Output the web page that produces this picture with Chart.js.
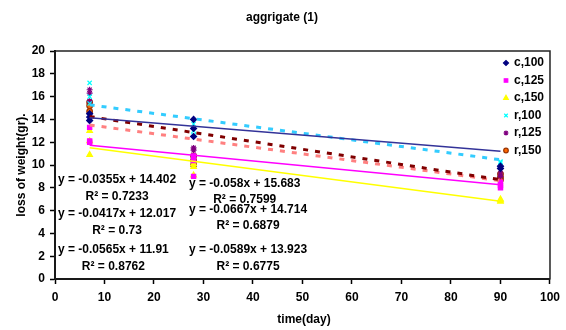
<!DOCTYPE html>
<html>
<head>
<meta charset="utf-8">
<script src="https://cdn.jsdelivr.net/npm/chart.js@4/dist/chart.umd.min.js"></script>
<style>
  html, body { margin: 0; padding: 0; background: #fff; }
  #chart { display: block; }
</style>
</head>
<body>
<canvas id="chart" width="566" height="330"></canvas>
<script>
// sampling days
const days = [7, 28, 90];

// measured values, one inner list per day (replicates)
const c100 = [[14.5, 14.2, 13.9], [14.0, 13.2, 12.5], [9.9, 9.7]];
const c125 = [[13.3, 12.1, 12.0], [10.8, 10.4, 9.0], [8.5, 8.2, 8.0]];
const c150 = [[13.0, 12.1, 10.9], [10.1, 9.85, 9.1], [7.0, 6.9, 6.8]];
const r100 = [[17.2, 16.0, 15.4], [13.6, 13.0, 12.6], [10.3, 10.2]];
const r125 = [[16.6, 16.3, 15.6], [11.5, 11.3, 10.8], [9.3, 9.0]];
const r150 = [[15.5, 15.2, 14.7], [10.8, 10.4, 10.0], [9.2, 8.9, 8.7]];

// linear trendlines, value at first and last day
const trendDays = [7, 90];
const c100Trend = [14.15, 11.21];
const c125Trend = [11.73, 8.26];
const c150Trend = [11.51, 6.83];
const r100Trend = [15.28, 10.46];
const r125Trend = [14.25, 8.71];
const r150Trend = [13.51, 8.62];

const seriesNames = ['c,100', 'c,125', 'c,150', 'r,100', 'r,125', 'r,150'];

const eqLeft = ['y = -0.0355x + 14.402', 'R² = 0.7233', 'y = -0.0417x + 12.017', 'R² = 0.73', 'y = -0.0565x + 11.91', 'R² = 0.8762'];
const eqMid = ['y = -0.058x + 15.683', 'R² = 0.7599', 'y = -0.0667x + 14.714', 'R² = 0.6879', 'y = -0.0589x + 13.923', 'R² = 0.6775'];

const xTicks = [0, 10, 20, 30, 40, 50, 60, 70, 80, 90, 100];
const yTicks = [0, 2, 4, 6, 8, 10, 12, 14, 16, 18, 20];

const FONT = 'bold 12px "Liberation Sans", Arial, sans-serif';

function toPoints(series) {
    let pts = [];
    series.forEach((vals, i) => {
        vals.forEach(v => pts.push({x: days[i], y: v}));
    });
    return pts;
}

function toTrend(vals) {
    return vals.map((v, i) => ({x: trendDays[i], y: v}));
}

const markers = [
    {style: 'rectRot', color: '#000080', border: '#000080', radius: 3},
    {style: 'rect', color: '#FF00FF', border: '#FF00FF', radius: 3},
    {style: 'triangle', color: '#FFFF00', border: '#FFFF00', radius: 3.2},
    {style: 'crossRot', color: '#00FFFF', border: '#00FFFF', radius: 3},
    {style: 'star', color: '#800080', border: '#800080', radius: 3},
    {style: 'circle', color: '#FF6600', border: '#993300', radius: 2.8},
];

const pointData = [c100, c125, c150, r100, r125, r150];
const trendData = [c100Trend, c125Trend, c150Trend, r100Trend, r125Trend, r150Trend];
const trendStyles = [
    {color: '#333399', width: 1.5, dash: []},
    {color: '#FF00FF', width: 1.5, dash: []},
    {color: '#FFFF00', width: 1.5, dash: []},
    {color: '#33CCFF', width: 3, dash: [5, 7]},
    {color: '#800000', width: 3, dash: [5, 7]},
    {color: '#FF8080', width: 3, dash: [5, 7]},
];

let datasets = [];
pointData.forEach((s, i) => {
    datasets.push({
        label: seriesNames[i],
        data: toPoints(s),
        pointStyle: markers[i].style,
        pointRadius: markers[i].radius,
        backgroundColor: markers[i].color,
        borderColor: markers[i].border,
        pointBorderWidth: 1.2,
        showLine: false,
        order: 2,
    });
});
trendData.forEach((t, i) => {
    datasets.push({
        label: 'trend ' + seriesNames[i],
        data: toTrend(t),
        showLine: true,
        pointRadius: 0,
        borderColor: trendStyles[i].color,
        borderWidth: trendStyles[i].width,
        borderDash: trendStyles[i].dash,
        order: 1,
    });
});

function drawLabelBlock(ctx, lines, left, ys) {
    ctx.font = FONT;
    ctx.fillStyle = '#000';
    ctx.textBaseline = 'middle';
    ctx.textAlign = 'center';
    for (let k = 0; k < lines.length; k += 2) {
        let w = Math.max(ctx.measureText(lines[k]).width, ctx.measureText(lines[k + 1]).width);
        let cx = left + w / 2;
        ctx.fillText(lines[k], cx, ys[k]);
        ctx.fillText(lines[k + 1], cx, ys[k + 1]);
    }
}

const decorations = {
    id: 'decorations',
    beforeDraw(chart) {
        const ctx = chart.ctx;
        ctx.save();
        ctx.fillStyle = '#fff';
        ctx.fillRect(0, 0, chart.width, chart.height);
        ctx.restore();
    },
    afterDraw(chart) {
        const ctx = chart.ctx;
        const a = chart.chartArea;
        ctx.save();
        // frame
        ctx.strokeStyle = '#222';
        ctx.lineWidth = 1.5;
        ctx.strokeRect(a.left, a.top, a.right - a.left, a.bottom - a.top);

        // titles
        ctx.font = FONT;
        ctx.fillStyle = '#000';
        ctx.textAlign = 'center';
        ctx.textBaseline = 'middle';
        ctx.fillText('aggrigate (1)', 282, 18);
        ctx.fillText('time(day)', 304, 320);
        ctx.save();
        ctx.translate(22, 165);
        ctx.rotate(-Math.PI / 2);
        ctx.fillText('loss of weight(gr).', 0, 0);
        ctx.restore();

        // trendline equations
        drawLabelBlock(ctx, eqLeft, 58, [180, 196.5, 214, 231, 249.5, 267]);
        drawLabelBlock(ctx, eqMid, 189, [184, 200, 210, 226, 250, 267]);

        // legend
        for (let i = 0; i < seriesNames.length; i++) {
            let y = 63 + i * 17.5;
            let m = markers[i];
            ctx.fillStyle = m.color;
            ctx.strokeStyle = m.border;
            ctx.lineWidth = 1.2;
            ctx.setLineDash([]);
            if (Chart.helpers && Chart.helpers.drawPoint) {
                Chart.helpers.drawPoint(ctx, {pointStyle: m.style, radius: m.radius - 0.5, rotation: 0, borderWidth: 1.2}, 506, y);
            } else {
                ctx.fillRect(504, y - 2, 4, 4);
            }
            ctx.fillStyle = '#000';
            ctx.font = FONT;
            ctx.textAlign = 'left';
            ctx.textBaseline = 'middle';
            ctx.fillText(seriesNames[i], 514, y);
        }
        ctx.restore();
    }
};

new Chart(document.getElementById('chart').getContext('2d'), {
    type: 'scatter',
    data: {datasets: datasets},
    options: {
        responsive: false,
        animation: false,
        layout: {padding: {top: 51, right: 13, left: 0, bottom: 0}},
        plugins: {
            legend: {display: false},
            tooltip: {enabled: false},
            title: {display: false},
        },
        scales: {
            x: {
                type: 'linear',
                min: 0,
                max: 100,
                afterBuildTicks: (scale) => { scale.ticks = xTicks.map(v => ({value: v})); },
                afterFit: (scale) => { scale.height = 51; },
                ticks: {
                    color: '#000',
                    font: {family: '"Liberation Sans", Arial, sans-serif', size: 12, weight: 'bold'},
                    padding: 6,
                    maxRotation: 0,
                },
                grid: {drawOnChartArea: false, tickLength: 5, color: '#000', tickWidth: 1.5},
                border: {color: '#000', width: 2},
            },
            y: {
                type: 'linear',
                min: 0,
                max: 20,
                afterBuildTicks: (scale) => { scale.ticks = yTicks.map(v => ({value: v})); },
                afterFit: (scale) => { scale.width = 55; },
                ticks: {
                    color: '#000',
                    font: {family: '"Liberation Sans", Arial, sans-serif', size: 12, weight: 'bold'},
                    padding: 5,
                },
                grid: {drawOnChartArea: false, tickLength: 5, color: '#000', tickWidth: 1.5},
                border: {color: '#000', width: 2},
            },
        },
    },
    plugins: [decorations],
});
</script>
</body>
</html>
